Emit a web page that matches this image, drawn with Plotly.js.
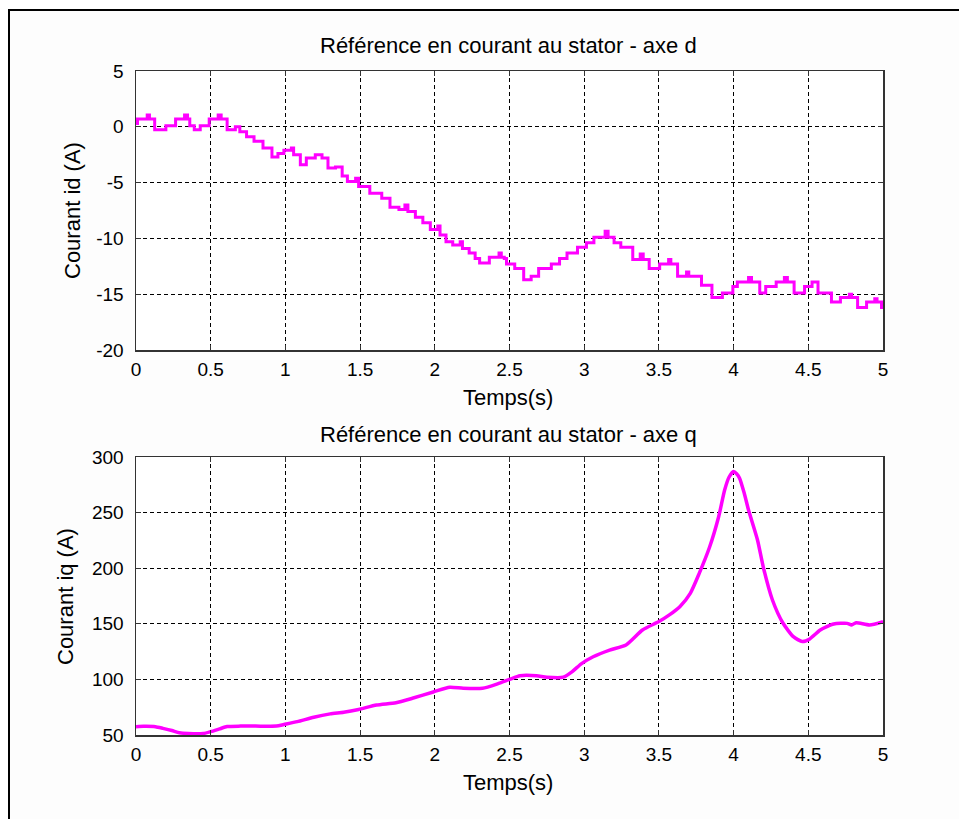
<!DOCTYPE html>
<html>
<head>
<meta charset="utf-8">
<script src="https://cdn.plot.ly/plotly-3.0.1.min.js"></script>
<style>
html, body { margin:0; padding:0; background:#ffffff; width:959px; height:819px; overflow:hidden; }
#frame { position:absolute; left:8px; top:9px; width:2000px; height:2000px; border-left:2px solid #000; border-top:2px solid #000; background:#fdfdfd; }
#chart { position:absolute; left:0; top:0; width:959px; height:819px; }
</style>
</head>
<body>
<div id="frame"></div>
<div id="chart"></div>
<script>
// Top subplot: id reference (stepped), step start times and levels
const tD = [0, 0.01, 0.075, 0.09, 0.125, 0.2, 0.265, 0.325, 0.345, 0.36,
  0.39, 0.43, 0.49, 0.55, 0.57, 0.61, 0.665, 0.695, 0.74, 0.79,
  0.85, 0.91, 0.95, 0.99, 1.04, 1.055, 1.1, 1.14, 1.2, 1.245,
  1.285, 1.335, 1.38, 1.415, 1.47, 1.49, 1.565, 1.645, 1.7, 1.76,
  1.8, 1.82, 1.87, 1.92, 1.97, 2.02, 2.035, 2.075, 2.12, 2.17,
  2.185, 2.23, 2.27, 2.3, 2.365, 2.43, 2.445, 2.465, 2.48, 2.535,
  2.595, 2.645, 2.695, 2.78, 2.835, 2.885, 2.955, 3.015, 3.065, 3.14,
  3.16, 3.2, 3.245, 3.325, 3.375, 3.395, 3.435, 3.505, 3.565, 3.58,
  3.625, 3.685, 3.7, 3.785, 3.855, 3.925, 3.995, 4.025, 4.1, 4.12,
  4.175, 4.215, 4.285, 4.34, 4.36, 4.405, 4.475, 4.525, 4.565, 4.655,
  4.715, 4.775, 4.79, 4.83, 4.89, 4.945, 4.96, 4.99, 5.0];
const idRef = [0.3, 0.7, 1.05, 0.7, -0.27, 0.1, 0.7, 1.05, 0.7, 0.1,
  -0.27, 0.1, 0.7, 1.05, 0.7, -0.27, 0.0, -0.45, -0.9, -1.3,
  -1.9, -2.7, -2.4, -2.1, -1.9, -2.5, -3.4, -2.8, -2.5, -2.8,
  -3.7, -3.6, -4.4, -4.9, -4.6, -5.35, -5.95, -6.4, -7.2, -7.4,
  -7.0, -7.6, -8.1, -8.6, -9.2, -8.9, -9.7, -10.3, -10.6, -10.3,
  -10.9, -11.3, -11.8, -12.2, -11.7, -11.3, -11.7, -11.8, -12.3, -12.7,
  -13.7, -13.4, -12.7, -12.3, -11.8, -11.3, -10.8, -10.4, -9.9, -9.35,
  -9.9, -10.4, -10.8, -11.9, -11.4, -11.9, -12.7, -12.3, -11.9, -12.3,
  -13.4, -13.0, -13.4, -14.2, -15.3, -14.9, -14.3, -13.9, -13.5, -13.9,
  -14.9, -14.3, -13.9, -13.5, -13.9, -14.9, -14.3, -13.9, -14.9, -15.7,
  -15.3, -15.0, -15.3, -16.2, -15.7, -15.4, -15.7, -16.2, -16.2];

// Bottom subplot: iq reference
const tQ = [0, 0.05, 0.13, 0.18, 0.24, 0.29, 0.35, 0.45, 0.5, 0.56,
  0.61, 0.7, 0.8, 0.94, 0.99, 1.08, 1.19, 1.3, 1.39, 1.49,
  1.61, 1.74, 1.85, 1.99, 2.1, 2.19, 2.32, 2.42, 2.5, 2.57,
  2.68, 2.75, 2.86, 2.92, 2.98, 3.06, 3.17, 3.28, 3.39, 3.5,
  3.57, 3.64, 3.71, 3.77, 3.84, 3.9, 3.94, 3.97, 4.0, 4.02,
  4.04, 4.07, 4.1, 4.16, 4.2, 4.26, 4.33, 4.4, 4.46, 4.51,
  4.58, 4.67, 4.76, 4.79, 4.82, 4.91, 5.0];
const iqRef = [57.5, 57.8, 57.5, 56, 54, 52, 51.3, 51.3, 53, 55.5,
  57.6, 58, 58, 58, 59.4, 62, 66, 69, 70.5, 73,
  77, 79, 83, 88.7, 93, 92, 92, 96, 100, 103.3,
  103.3, 102, 102, 107, 114, 120.4, 126.4, 131, 144.4, 152,
  158, 165.4, 177.4, 195.4, 219.3, 246.3, 270.3, 282, 287, 285,
  281, 268, 252.3, 225.4, 200.2, 171.4, 150.7, 138.4, 134, 136.4,
  144.4, 149.8, 150.4, 149, 151, 149, 152];

const xTicks = [0, 0.5, 1, 1.5, 2, 2.5, 3, 3.5, 4, 4.5, 5];
const xTickText = ['0', '0.5', '1', '1.5', '2', '2.5', '3', '3.5', '4', '4.5', '5'];
const yTicksD = [-20, -15, -10, -5, 0, 5];
const yTickTextD = ['-20', '-15', '-10', '-5', '0', '5'];
const yTicksQ = [50, 100, 150, 200, 250, 300];
const yTickTextQ = ['50', '100', '150', '200', '250', '300'];

const titleD = 'Référence en courant au stator - axe d';
const titleQ = 'Référence en courant au stator - axe q';
const xLabel = 'Temps(s)';
const yLabelD = 'Courant id (A)';
const yLabelQ = 'Courant iq (A)';

const FONT = '"Liberation Sans", Arial, sans-serif';
const W = 959, H = 819;
const px = v => v / W;
const py = v => (H - v) / H;

const axisCommon = {
  showline: true, linecolor: '#333', linewidth: 1.5, mirror: 'ticks',
  ticks: 'inside', ticklen: 5, tickwidth: 1, tickcolor: '#333',
  showgrid: true, gridcolor: '#000', gridwidth: 1, griddash: '4px,3px',
  zeroline: false, tickfont: {family: FONT, size: 19, color: '#000'},
  fixedrange: true
};

const traces = [
  {x: tD, y: idRef, type: 'scatter', mode: 'lines', line: {color: '#ff00ff', width: 3, shape: 'hv'}, xaxis: 'x', yaxis: 'y', hoverinfo: 'skip'},
  {x: tQ, y: iqRef, type: 'scatter', mode: 'lines', line: {color: '#ff00ff', width: 3.5, shape: 'spline', smoothing: 0.6}, xaxis: 'x2', yaxis: 'y2', hoverinfo: 'skip'}
];

const LBL = 22;
const layout = {
  width: W, height: H,
  margin: {l: 0, r: 0, t: 0, b: 0},
  paper_bgcolor: 'rgba(0,0,0,0)', plot_bgcolor: '#ffffff',
  showlegend: false,
  font: {family: FONT, color: '#000'},
  xaxis: Object.assign({}, axisCommon, {domain: [px(136), px(883)], range: [0, 5], tickvals: xTicks, ticktext: xTickText, anchor: 'y', ticklabelstandoff: 2}),
  yaxis: Object.assign({}, axisCommon, {domain: [py(350), py(71)], range: [-20, 5], tickvals: yTicksD, ticktext: yTickTextD, anchor: 'x', ticklabelstandoff: 7}),
  xaxis2: Object.assign({}, axisCommon, {domain: [px(136), px(883)], range: [0, 5], tickvals: xTicks, ticktext: xTickText, anchor: 'y2', ticklabelstandoff: 2}),
  yaxis2: Object.assign({}, axisCommon, {domain: [py(735), py(457)], range: [50, 300], tickvals: yTicksQ, ticktext: yTickTextQ, anchor: 'x2', ticklabelstandoff: 7}),
  annotations: [
    {text: titleD, xref: 'paper', yref: 'paper', x: px(508), y: py(45), showarrow: false, xanchor: 'center', yanchor: 'middle', font: {family: FONT, size: LBL, color: '#000'}},
    {text: titleQ, xref: 'paper', yref: 'paper', x: px(508), y: py(434), showarrow: false, xanchor: 'center', yanchor: 'middle', font: {family: FONT, size: LBL, color: '#000'}},
    {text: xLabel, xref: 'paper', yref: 'paper', x: px(508), y: py(397), showarrow: false, xanchor: 'center', yanchor: 'middle', font: {family: FONT, size: LBL, color: '#000'}},
    {text: xLabel, xref: 'paper', yref: 'paper', x: px(508), y: py(782), showarrow: false, xanchor: 'center', yanchor: 'middle', font: {family: FONT, size: LBL, color: '#000'}},
    {text: yLabelD, xref: 'paper', yref: 'paper', x: px(73), y: py(211), showarrow: false, textangle: -90, xanchor: 'center', yanchor: 'middle', font: {family: FONT, size: LBL, color: '#000'}},
    {text: yLabelQ, xref: 'paper', yref: 'paper', x: px(65), y: py(597), showarrow: false, textangle: -90, xanchor: 'center', yanchor: 'middle', font: {family: FONT, size: LBL, color: '#000'}}
  ]
};

Plotly.newPlot('chart', traces, layout, {staticPlot: true, displayModeBar: false});
</script>
</body>
</html>
